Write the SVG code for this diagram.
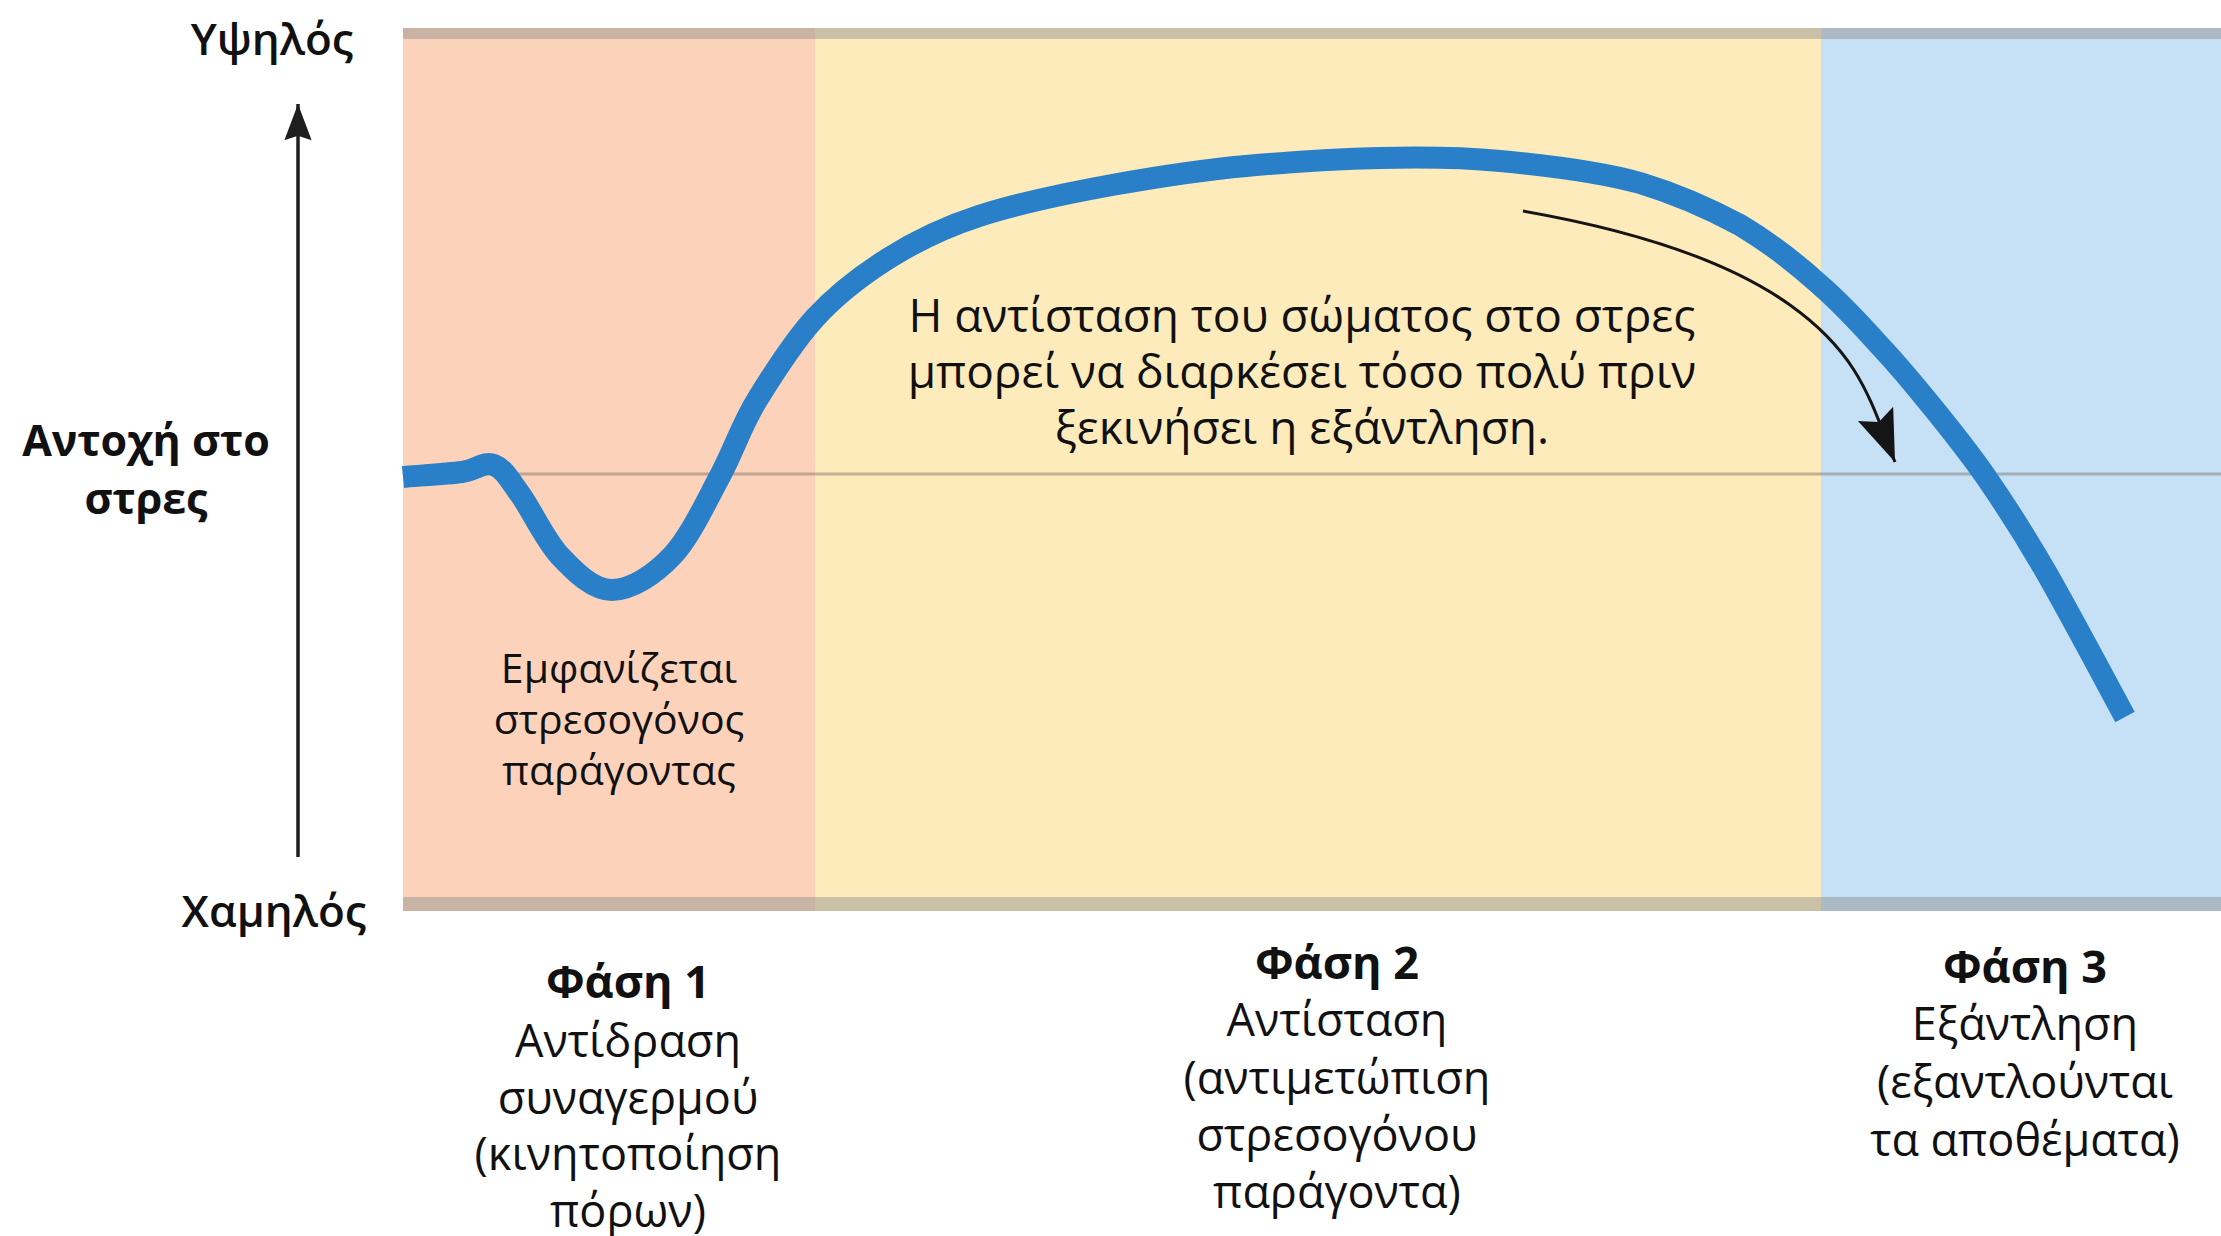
<svg xmlns="http://www.w3.org/2000/svg" width="2221" height="1236" viewBox="0 0 2221 1236">
  <style>
    .lbl { font-family: "Open Sans", "Noto Sans", "DejaVu Sans", sans-serif; fill: #111; text-anchor: middle; }
    .axis-lbl { font-size: 44px; font-weight: 600; }
    .axis-title { font-size: 43px; font-weight: 700; }
    .phase { font-size: 45px; }
    .phase-title { font-weight: 700; }
    .note { font-size: 46px; }
    .small { font-size: 41px; }
    .band { fill: #8c8c8c; fill-opacity: 0.45; }
  </style>
  <defs>
    <marker id="axisHead" markerUnits="userSpaceOnUse" markerWidth="40" markerHeight="44" viewBox="-42 -18 44 36" refX="0" refY="0" orient="auto">
      <path d="M0,0 L-40,-15 L-35,0 L-40,15 Z" fill="#1e1e1e"/>
    </marker>
    <marker id="noteHead" markerUnits="userSpaceOnUse" markerWidth="56" markerHeight="44" viewBox="-54 -22 56 44" refX="0" refY="0" orient="auto">
      <path d="M0,0 L-52,-19 L-43,0 L-52,19 Z" fill="#151515"/>
    </marker>
  </defs>

  <rect width="2221" height="1236" fill="#ffffff"/>

  <!-- phase backgrounds -->
  <g id="phase-areas">
    <rect id="area-alarm" x="403" y="28" width="412" height="883" fill="#fcd3ba"/>
    <rect id="area-resistance" x="815" y="28" width="1006" height="883" fill="#fdebbb"/>
    <rect id="area-exhaustion" x="1821" y="28" width="400" height="883" fill="#c6e1f6"/>
    <rect class="band" x="403" y="28" width="1818" height="11"/>
    <rect class="band" x="403" y="897" width="1818" height="14"/>
    <line x1="403" y1="474" x2="2221" y2="474" stroke="#6f5f55" stroke-opacity="0.4" stroke-width="3"/>
  </g>

  <!-- vertical axis -->
  <g id="axis">
    <line x1="298" y1="857" x2="298" y2="104" stroke="#1e1e1e" stroke-width="3.5" marker-end="url(#axisHead)"/>
  </g>

  <!-- curves -->
  <g id="connectors">
    <path id="resistance-curve" fill="none" stroke="#2a80c8" stroke-width="22" stroke-linejoin="round"
      d="M403,477 C413,476 447,474 462,472 C477,470 484,461 494,465 C504,469 509,479 520,494 C531,509 545,540 560,556 C575,572 593,590 612,590 C631,590 654,575 672,556 C690,537 706,502 720,476 C734,450 741,426 757,400 C773,374 793,342 815,318 C837,294 862,275 889,258 C916,241 942,228 979,216 C1016,204 1068,193 1112,185 C1157,177 1201,170 1246,166 C1291,162 1338,159 1380,158 C1422,157 1457,157 1500,161 C1543,165 1600,172 1640,183 C1680,195 1710,209 1740,225 C1770,243 1797,264 1820,285 C1843,305 1863,327 1880,346 C1898,365 1907,376 1925,398 C1943,420 1966,448 1986,477 C2006,506 2023,532 2046,572 C2069,612 2112,693 2125,717"/>
    <path id="duration-arrow" fill="none" stroke="#151515" stroke-width="3"
      d="M1523,211 C1620,228 1720,255 1790,305 S1870,400 1895,462" marker-end="url(#noteHead)"/>
  </g>

  <!-- axis labels -->
  <g id="label-high">
    <text class="lbl axis-lbl" x="272" y="55">Υψηλός</text>
  </g>
  <g id="label-tolerance">
    <text class="lbl axis-title" x="146" y="456">Αντοχή στο</text>
    <text class="lbl axis-title" x="146" y="514">στρες</text>
  </g>
  <g id="label-low">
    <text class="lbl axis-lbl" x="274" y="927">Χαμηλός</text>
  </g>

  <!-- annotations inside the chart -->
  <g id="note-stressor">
    <text class="lbl small" x="619" y="683">Εμφανίζεται</text>
    <text class="lbl small" x="619" y="734">στρεσογόνος</text>
    <text class="lbl small" x="619" y="785">παράγοντας</text>
  </g>
  <g id="note-duration">
    <text class="lbl note" x="1302" y="332">Η αντίσταση του σώματος στο στρες</text>
    <text class="lbl note" x="1302" y="388">μπορεί να διαρκέσει τόσο πολύ πριν</text>
    <text class="lbl note" x="1302" y="444">ξεκινήσει η εξάντληση.</text>
  </g>

  <!-- phase captions -->
  <g id="phase-1">
    <text class="lbl phase phase-title" x="628" y="998">Φάση 1</text>
    <text class="lbl phase" x="628" y="1057">Αντίδραση</text>
    <text class="lbl phase" x="628" y="1114">συναγερμού</text>
    <text class="lbl phase" x="628" y="1170">(κινητοποίηση</text>
    <text class="lbl phase" x="628" y="1227">πόρων)</text>
  </g>
  <g id="phase-2">
    <text class="lbl phase phase-title" x="1337" y="979">Φάση 2</text>
    <text class="lbl phase" x="1337" y="1036">Αντίσταση</text>
    <text class="lbl phase" x="1337" y="1094">(αντιμετώπιση</text>
    <text class="lbl phase" x="1337" y="1151">στρεσογόνου</text>
    <text class="lbl phase" x="1337" y="1208">παράγοντα)</text>
  </g>
  <g id="phase-3">
    <text class="lbl phase phase-title" x="2025" y="983">Φάση 3</text>
    <text class="lbl phase" x="2025" y="1040">Εξάντληση</text>
    <text class="lbl phase" x="2025" y="1098">(εξαντλούνται</text>
    <text class="lbl phase" x="2025" y="1156">τα αποθέματα)</text>
  </g>
</svg>
